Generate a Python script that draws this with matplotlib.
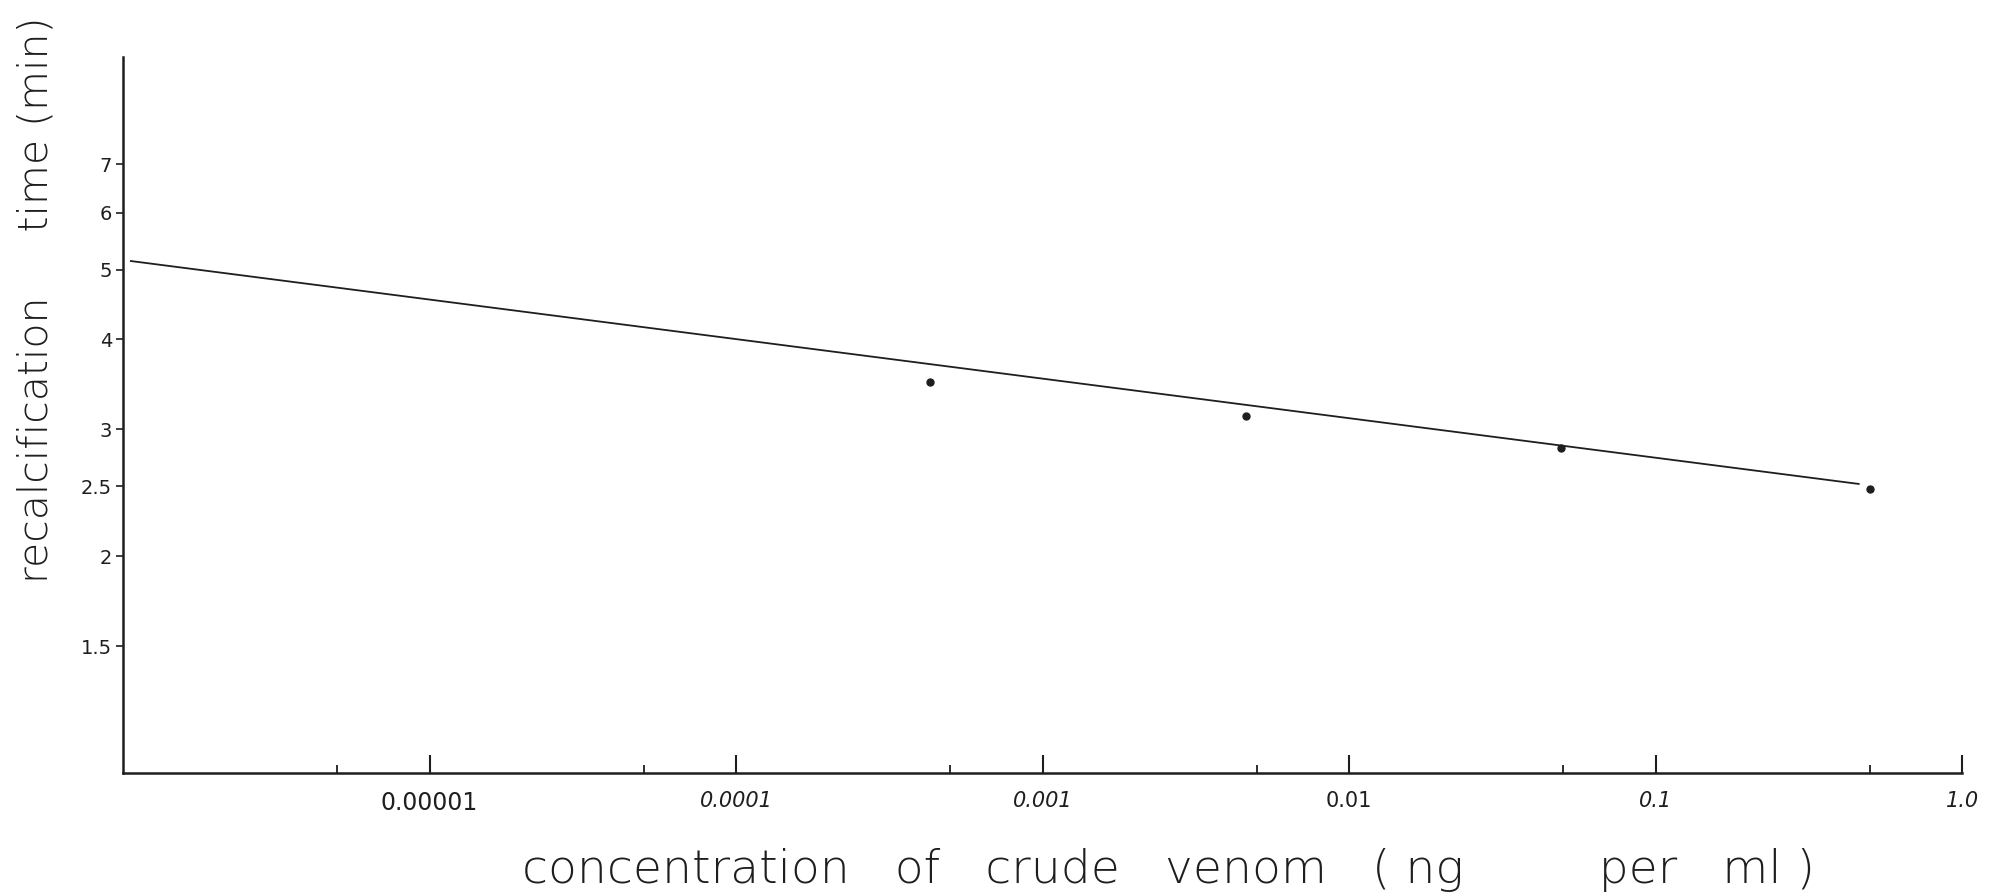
import matplotlib
matplotlib.use('Agg')
import matplotlib.pyplot as plt
from matplotlib.ticker import FixedLocator, NullFormatter, NullLocator

# venom concentration (ng per ml) and recalcification time (min)
conc = [0.00043, 0.0046, 0.049, 0.5]
recalc_time = [3.49, 3.13, 2.83, 2.48]

# fitted line, drawn across the plotted range
fit_conc = [1.06e-6, 0.46]
fit_time = [5.14, 2.52]

x_major = [1e-5, 1e-4, 1e-3, 1e-2, 1e-1, 1.0]
x_major_labels = ['0.00001', '0.0001', '0.001', '0.01', '0.1', '1.0']
x_minor = [5e-6, 5e-5, 5e-4, 5e-3, 5e-2, 5e-1]
y_ticks = [1.5, 2, 2.5, 3, 4, 5, 6, 7]
y_tick_labels = ['1.5', '2', '2.5', '3', '4', '5', '6', '7']

ink = '#1e1e1e'

fig = plt.figure(figsize=(19.95, 8.96), dpi=100)
ax = fig.add_axes([0.0617, 0.1373, 0.9218, 0.7991])

ax.plot(fit_conc, fit_time, color=ink, lw=1.3)
ax.plot(conc, recalc_time, 'o', color=ink, ms=5)

ax.set_xscale('log')
ax.set_yscale('log')
ax.set_xlim(1e-6, 1.0)
ax.set_ylim(1.0, 9.87)

for side in ['top', 'right']:
    ax.spines[side].set_visible(False)
for side in ['left', 'bottom']:
    ax.spines[side].set_linewidth(1.8)
    ax.spines[side].set_color(ink)

ax.xaxis.set_major_locator(FixedLocator(x_major))
ax.set_xticklabels(x_major_labels)
ax.xaxis.set_minor_locator(FixedLocator(x_minor))
ax.xaxis.set_minor_formatter(NullFormatter())
ax.tick_params(axis='x', which='major', direction='in', length=13, width=1.5,
               color=ink, pad=13, labelsize=15, labelcolor=ink)
ax.tick_params(axis='x', which='minor', direction='in', length=6, width=1.3,
               color=ink)
for lab, style in zip(ax.get_xticklabels(),
                      ['normal', 'italic', 'italic', 'normal', 'italic', 'italic']):
    lab.set_fontstyle(style)
ax.get_xticklabels()[0].set_fontsize(17)

ax.yaxis.set_major_locator(FixedLocator(y_ticks))
ax.set_yticklabels(y_tick_labels)
ax.yaxis.set_minor_locator(NullLocator())
ax.tick_params(axis='y', direction='out', length=5, width=1.2, color=ink,
               pad=3, labelsize=14, labelcolor=ink)

# hand-lettered axis titles, words spaced out
fig.text(0.2617, 0.0145,
         'concentration   of   crude   venom   ( ng         per   ml )',
         ha='left', va='baseline', fontsize=34, color=ink, fontweight='light')
fig.text(0.0236, 0.349, 'recalcification     time (min)', rotation=90,
         rotation_mode='anchor', ha='left', va='baseline',
         fontsize=29.5, color=ink, fontweight='light')

fig.savefig('out.png', dpi=100, facecolor='white')
